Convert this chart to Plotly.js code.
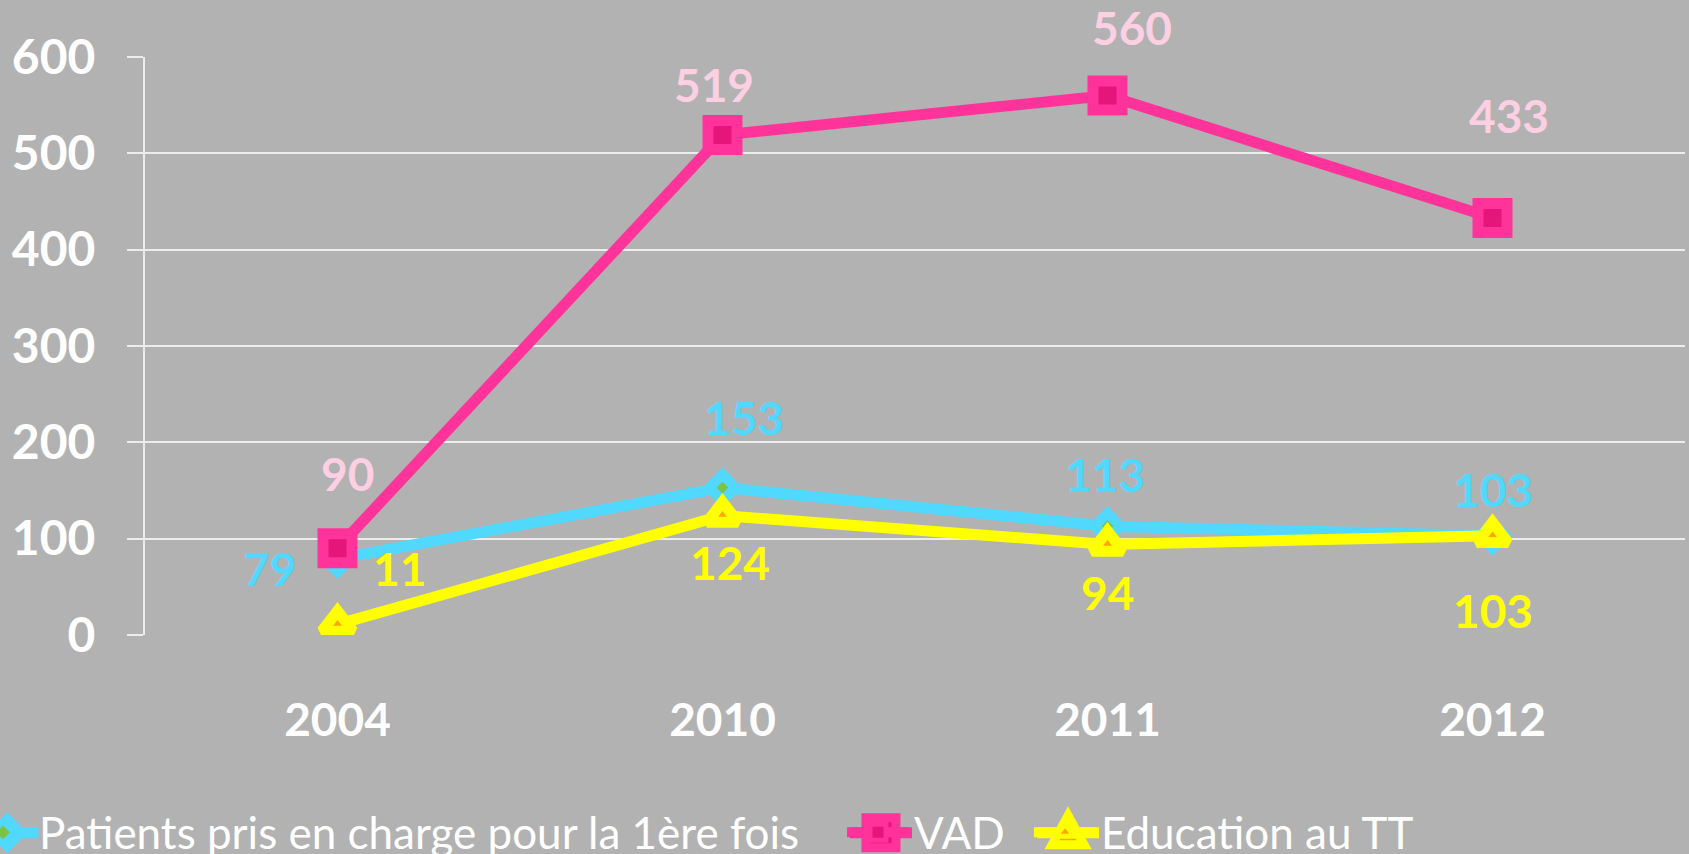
<!DOCTYPE html>
<html>
<head>
<meta charset="utf-8">
<script src="https://cdn.plot.ly/plotly-3.0.1.min.js"></script>
<style>
html,body{margin:0;padding:0;background:#B2B2B2;}
#chart{width:1689px;height:854px;}
</style>
</head>
<body>
<div id="chart"></div>
<script>
// ---- data ----
const years = ["2004", "2010", "2011", "2012"];
const patients = [79, 153, 113, 103];
const vad = [90, 519, 560, 433];
const education = [11, 124, 94, 103];
const seriesNames = ["Patients pris en charge pour la 1ère fois", "VAD", "Education au TT"];
const yTicks = [0, 100, 200, 300, 400, 500, 600];

// ---- label offsets (px, style only) ----
const offPatients = [[-68, -10], [21, 70], [-3, 52], [0, 46]];
const offVad = [[10, 75], [-9, 51], [24, 68], [16, 102]];
const offEdu = [[62, 56], [7, -47], [0, -48], [0, -75]];

const cyan = "#50D8FF", pink = "#FF3399", yellow = "#FFFF00";
const labelColors = {p: "#50D8FF", v: "#FCCFE3", e: "#FFFF00"};
const numFont = "Lato, 'Open Sans', sans-serif";

const traces = [
  {x: years, y: patients, name: seriesNames[0], type: "scatter", mode: "lines+markers",
   line: {color: cyan, width: 11}, legend: "legend",
   marker: {symbol: "diamond", size: 20, color: "#7DC242", line: {color: cyan, width: 10}}},
  {x: years, y: vad, name: seriesNames[1], type: "scatter", mode: "lines+markers",
   line: {color: pink, width: 11}, legend: "legend2",
   marker: {symbol: "square", size: 29, color: "#E6157A", line: {color: pink, width: 11}}},
  {x: years, y: education, name: seriesNames[2], type: "scatter", mode: "lines+markers",
   line: {color: yellow, width: 11}, legend: "legend3",
   marker: {symbol: "triangle-up", size: 27, color: "#FFA500", line: {color: yellow, width: 11}}}
];

function labels(vals, offs, color) {
  return vals.map((v, i) => ({
    x: i, y: v, xref: "x", yref: "y", text: "<b>" + v + "</b>", showarrow: false,
    xshift: offs[i][0], yshift: offs[i][1],
    font: {family: numFont, size: 46, color: color}
  }));
}

const annotations = [].concat(
  labels(patients, offPatients, labelColors.p),
  labels(vad, offVad, labelColors.v),
  labels(education, offEdu, labelColors.e)
);

// legend geometry (paper coords)
const legY = -0.342;
const legX = [-0.1156, 0.4526, 0.5740];
const symX = [-0.0894, 0.4779, 0.5994]; // centres of enlarged symbols
function legendBase(x) {
  return {orientation: "h", x: x, xanchor: "left", y: legY, yanchor: "middle",
    font: {family: "Lato, 'Open Sans', sans-serif", size: 44, color: "#FFFFFF"},
    itemwidth: 62, bgcolor: "rgba(0,0,0,0)", borderwidth: 0};
}
function symShapes(cx, color, fill, path) {
  return [
    {type: "line", xref: "paper", yref: "paper", xsizemode: "pixel", ysizemode: "pixel",
     xanchor: cx, yanchor: legY, x0: -31, x1: 31, y0: 0, y1: 0, line: {color: color, width: 11}},
    {type: "path", xref: "paper", yref: "paper", xsizemode: "pixel", ysizemode: "pixel",
     xanchor: cx, yanchor: legY, path: path, fillcolor: fill, line: {color: color, width: 9}}
  ];
}
const shapes = [].concat(
  symShapes(symX[0], cyan, "#7DC242", "M0,14 L14,0 L0,-14 L-14,0 Z"),
  symShapes(symX[1], pink, "#E6157A", "M-15,-15 L15,-15 L15,15 L-15,15 Z"),
  symShapes(symX[2], yellow, "#FFA500", "M0,17 L16,-12 L-16,-12 Z")
);

const layout = {
  width: 1689, height: 854,
  paper_bgcolor: "#B2B2B2", plot_bgcolor: "#B2B2B2",
  margin: {l: 145, r: 4, t: 57, b: 219, autoexpand: false},
  showlegend: true,
  legend: legendBase(legX[0]),
  legend2: legendBase(legX[1]),
  legend3: legendBase(legX[2]),
  xaxis: {type: "category", range: [-0.5, 3.5], showgrid: false, zeroline: false,
    showline: false, ticks: "", ticklabelstandoff: 54,
    tickfont: {family: numFont, size: 46, color: "#FFFFFF", weight: "bold"}, fixedrange: true},
  yaxis: {range: [0, 600], tickvals: yTicks, ticktext: yTicks.map(String),
    showgrid: true, gridcolor: "#EDEDED", gridwidth: 2, zeroline: false,
    showline: true, linecolor: "#EDEDED", linewidth: 2,
    ticks: "outside", ticklen: 16, tickcolor: "#EDEDED", tickwidth: 2,
    ticklabelstandoff: 22,
    tickfont: {family: numFont, size: 48, color: "#FFFFFF", weight: "bold"}, fixedrange: true},
  shapes: shapes,
  annotations: annotations
};

Plotly.newPlot("chart", traces, layout, {displayModeBar: false, staticPlot: true});
</script>
</body>
</html>
